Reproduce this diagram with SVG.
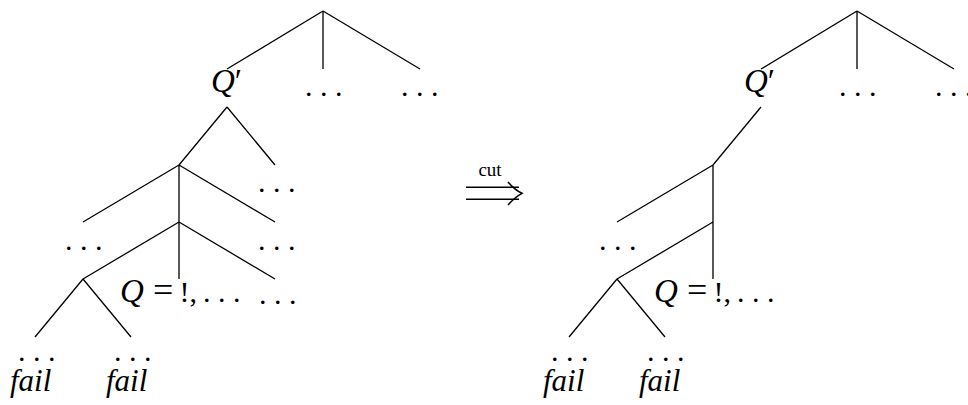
<svg xmlns="http://www.w3.org/2000/svg" width="968" height="405" viewBox="0 0 968 405">
<style>
.e{stroke:#000;stroke-width:1.3;fill:none;stroke-linecap:butt}
.t{font-family:"Liberation Serif","DejaVu Serif",serif;font-size:30px;fill:#000}
.q{font-size:33px;font-style:italic}
.f{font-size:31px;font-style:italic}
.eq{font-size:36px}
.d{letter-spacing:7.5px}
.s{font-family:"Liberation Serif","DejaVu Serif",serif;font-size:19px;fill:#000}
</style>
<rect width="968" height="405" fill="#fff"/>
<g id="connectors">
<g id="left-edges" class="e">
<path d="M323 11L227 69M323 11L323 69M323 11L420 69"/>
<path d="M227 107L179 165M227 107L275 165"/>
<path d="M179 165L83 222M179 165L179 222M179 165L275 222"/>
<path d="M179 222L83 279M179 222L179 279M179 222L275 279"/>
<path d="M83 279L35 337M83 279L131 337"/>
</g>
<g id="cut-arrow" class="e" style="stroke-width:1.5">
<path d="M466 187.3H519M466 199.3H519"/>
<path d="M508 182Q515 190 522 193.3Q515 197 508 205"/>
</g>
<g id="right-edges" class="e">
<path d="M857 11L761 69M857 11L857 69M857 11L954 69"/>
<path d="M761 107L713 165"/>
<path d="M713 165L617 222M713 165L713 222"/>
<path d="M713 222L617 279M713 222L713 279"/>
<path d="M617 279L569 337M617 279L665 337"/>
</g>
</g>
<g id="left-tree">
<g id="l-qprime"><text class="t" x="211" y="92"><tspan class="q">Q</tspan><tspan font-size="33">′</tspan></text></g>
<g id="l-dots1"><text class="t d" x="305" y="96">...</text></g>
<g id="l-dots2"><text class="t d" x="401" y="96">...</text></g>
<g id="l-dots3"><text class="t d" x="258" y="192">...</text></g>
<g id="l-dots4"><text class="t d" x="65" y="250">...</text></g>
<g id="l-dots5"><text class="t d" x="258" y="250">...</text></g>
<g id="l-q"><text class="t" x="120" y="302"><tspan class="q">Q</tspan><tspan class="eq" x="153">=</tspan><tspan x="179.5">!,</tspan><tspan class="d" x="203">...</tspan></text></g>
<g id="l-dots6"><text class="t d" x="259" y="304">...</text></g>
<g id="l-fail1"><text class="t d" x="18" y="361">...</text><text class="t f" x="10" y="391">fail</text></g>
<g id="l-fail2"><text class="t d" x="114" y="361">...</text><text class="t f" x="106" y="391">fail</text></g>
</g>
<g id="cut-label"><text class="s" x="490" y="176" text-anchor="middle">cut</text></g>
<g id="right-tree">
<g id="r-qprime"><text class="t" x="744" y="92"><tspan class="q">Q</tspan><tspan font-size="33">′</tspan></text></g>
<g id="r-dots1"><text class="t d" x="839" y="96">...</text></g>
<g id="r-dots2"><text class="t d" x="935" y="96">...</text></g>
<g id="r-dots4"><text class="t d" x="599" y="250">...</text></g>
<g id="r-q"><text class="t" x="654" y="302"><tspan class="q">Q</tspan><tspan class="eq" x="687">=</tspan><tspan x="713.5">!,</tspan><tspan class="d" x="737">...</tspan></text></g>
<g id="r-fail1"><text class="t d" x="551" y="361">...</text><text class="t f" x="543" y="391">fail</text></g>
<g id="r-fail2"><text class="t d" x="647" y="361">...</text><text class="t f" x="639" y="391">fail</text></g>
</g>
</svg>
